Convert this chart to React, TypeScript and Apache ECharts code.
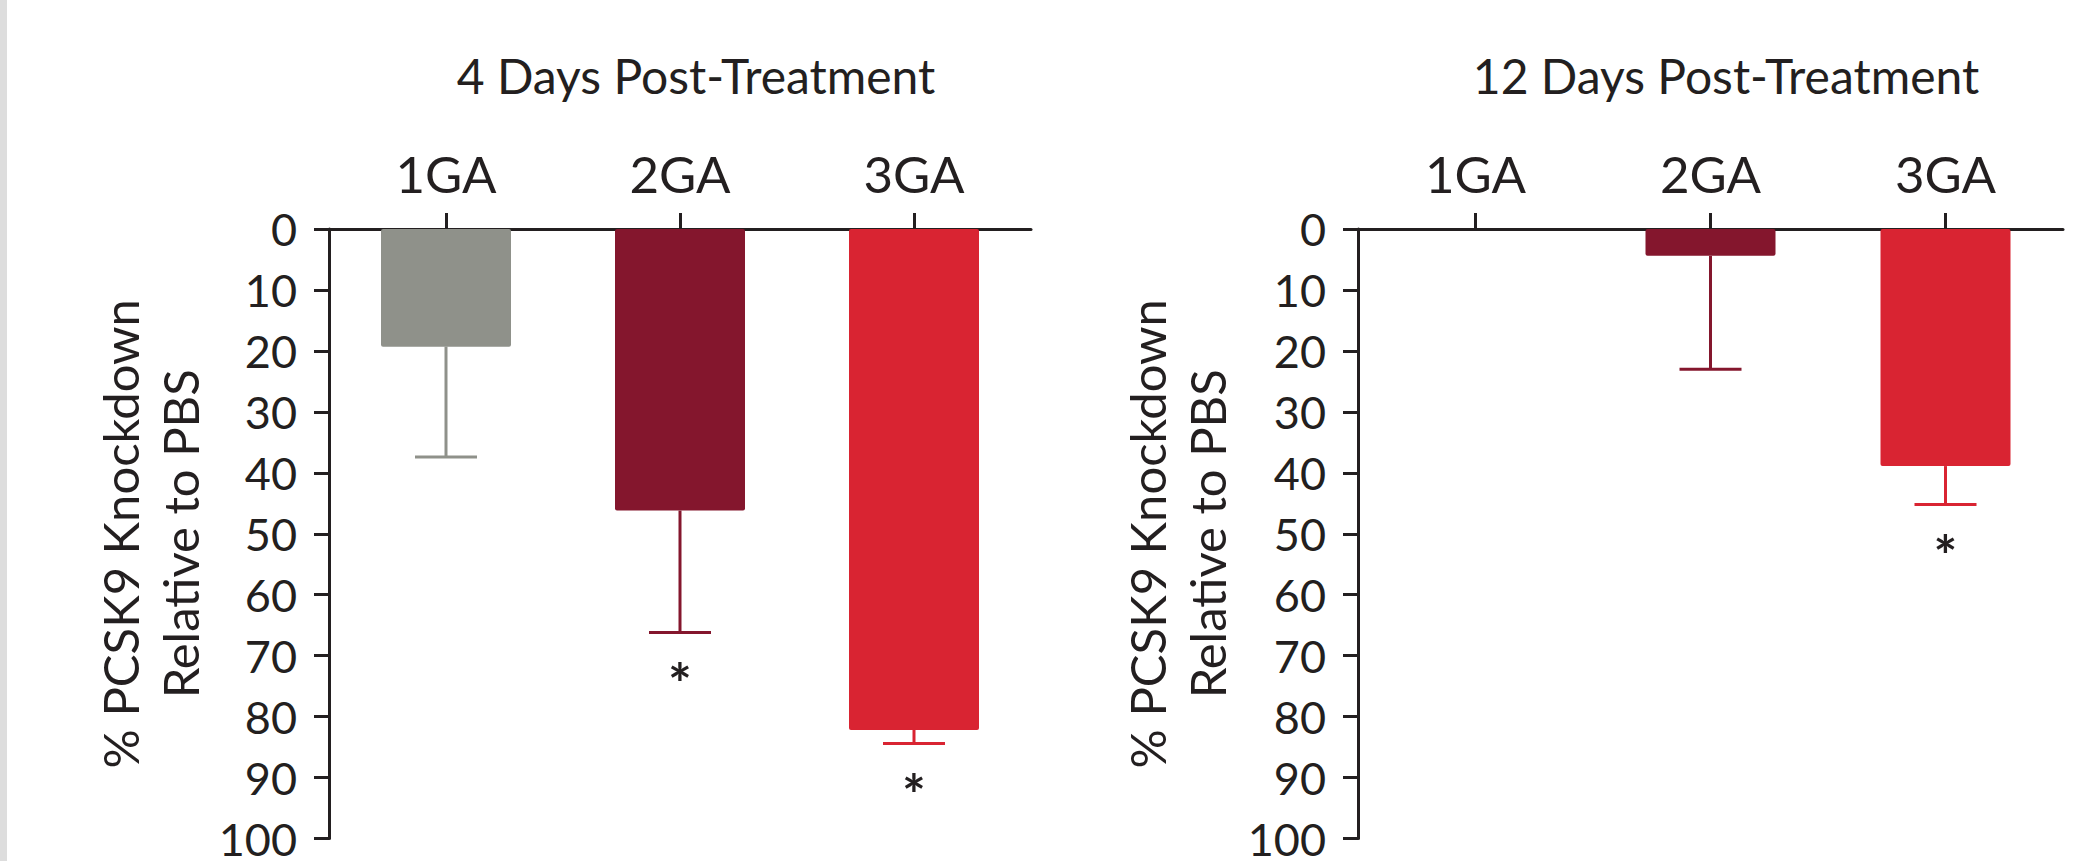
import React, { useEffect, useRef } from "react";
import * as echarts from "echarts";

const categories = ["1GA", "2GA", "3GA"];
const panelTitles = ["4 Days Post-Treatment", "12 Days Post-Treatment"];
const yAxisTitle = "% PCSK9 Knockdown\nRelative to PBS";

const day4Means = [19.3, 46.2, 82.2];
const day4Upper = [37.4, 66.2, 84.4];
const day4Sig = [false, true, true];

const day12Means = [0, 4.4, 38.9];
const day12Upper: (number | null)[] = [null, 23.0, 45.2];
const day12Sig = [false, false, true];

const barColors = ["#8f918a", "#84162d", "#d92432"];
const inkColor = "#231f20";
const fontFamily = "Lato, 'Noto Sans', sans-serif";

function barData(means: number[]) {
  return means.map((v, i) => ({ value: v, itemStyle: { color: barColors[i] } }));
}

function errData(means: number[], upper: (number | null)[], sig: boolean[]) {
  const out: number[][] = [];
  means.forEach((m, i) => {
    const u = upper[i];
    if (u !== null && u !== undefined) out.push([i, m, u, sig[i] ? 1 : 0]);
  });
  return out;
}

const renderError = (params: any, api: any) => {
  const idx = api.value(0);
  const mean = api.value(1);
  const up = api.value(2);
  const sig = api.value(3);
  const p0 = api.coord([idx, mean]);
  const p1 = api.coord([idx, up]);
  const color = barColors[idx];
  const capHalf = 31;
  const children: any[] = [
    {
      type: "line",
      shape: { x1: p0[0], y1: p0[1], x2: p1[0], y2: p1[1] },
      style: { stroke: color, lineWidth: 3 },
    },
    {
      type: "line",
      shape: { x1: p1[0] - capHalf, y1: p1[1], x2: p1[0] + capHalf, y2: p1[1] },
      style: { stroke: color, lineWidth: 3 },
    },
  ];
  if (sig) {
    children.push({
      type: "text",
      x: p1[0],
      y: p1[1] + 50,
      style: {
        text: "*",
        fill: inkColor,
        fontSize: 56,
        fontWeight: "bold",
        fontFamily,
        align: "center",
        verticalAlign: "middle",
      },
    });
  }
  return { type: "group", children };
};

function xAxisFor(gridIndex: number) {
  return {
    type: "category",
    gridIndex,
    data: categories,
    position: "top",
    axisLine: { show: true, lineStyle: { color: inkColor, width: 3 } },
    axisTick: { show: true, alignWithLabel: true, length: 16, lineStyle: { color: inkColor, width: 3 } },
    axisLabel: { color: inkColor, fontSize: 51, fontFamily, margin: 30 },
  };
}

function yAxisFor(gridIndex: number, nameGap: number) {
  return {
    type: "value",
    gridIndex,
    inverse: true,
    min: 0,
    max: 100,
    interval: 10,
    name: yAxisTitle,
    nameLocation: "middle",
    nameGap,
    nameTextStyle: {
      color: inkColor,
      fontSize: 49,
      fontFamily,
      lineHeight: 60,
      verticalAlign: "middle",
      align: "center",
    },
    axisLine: { show: true, lineStyle: { color: inkColor, width: 3 } },
    axisTick: { show: true, length: 15, lineStyle: { color: inkColor, width: 3 } },
    axisLabel: {
      color: inkColor,
      fontSize: 45,
      fontFamily,
      margin: 32,
      padding: [0, 0, 12, 0],
    },
    splitLine: { show: false },
  };
}

export default function App() {
  const ref = useRef<HTMLDivElement>(null);
  useEffect(() => {
    if (!ref.current) return;
    const chart = echarts.init(ref.current, null, { renderer: "svg" });
    chart.setOption({
      animation: false,
      backgroundColor: "#ffffff",
      title: [
        {
          text: panelTitles[0],
          left: 691,
          top: 46,
          textAlign: "center",
          textStyle: { color: inkColor, fontSize: 48, fontWeight: "normal", fontFamily },
        },
        {
          text: panelTitles[1],
          left: 1721,
          top: 46,
          textAlign: "center",
          textStyle: { color: inkColor, fontSize: 48, fontWeight: "normal", fontFamily },
        },
      ],
      graphic: [
        {
          type: "rect",
          left: 0,
          top: 0,
          shape: { x: 0, y: 0, width: 7, height: 861 },
          style: { fill: "#dddddd" },
          silent: true,
        },
      ],
      grid: [
        { left: 329, top: 229, width: 702, height: 626 },
        { left: 1358, top: 229, width: 705, height: 626 },
      ],
      xAxis: [xAxisFor(0), xAxisFor(1)],
      yAxis: [yAxisFor(0, 179), yAxisFor(1, 181)],
      series: [
        {
          type: "bar",
          xAxisIndex: 0,
          yAxisIndex: 0,
          barWidth: 130,
          data: barData(day4Means),
          itemStyle: { borderRadius: 2 },
        },
        {
          type: "custom",
          xAxisIndex: 0,
          yAxisIndex: 0,
          renderItem: renderError,
          data: errData(day4Means, day4Upper, day4Sig),
          z: 3,
        },
        {
          type: "bar",
          xAxisIndex: 1,
          yAxisIndex: 1,
          barWidth: 130,
          data: barData(day12Means),
          itemStyle: { borderRadius: 2 },
        },
        {
          type: "custom",
          xAxisIndex: 1,
          yAxisIndex: 1,
          renderItem: renderError,
          data: errData(day12Means, day12Upper, day12Sig),
          z: 3,
        },
      ],
    });
    return () => chart.dispose();
  }, []);
  return (
    <div
      ref={ref}
      style={{ position: "absolute", left: 0, top: 0, width: 2095, height: 861 }}
    />
  );
}
